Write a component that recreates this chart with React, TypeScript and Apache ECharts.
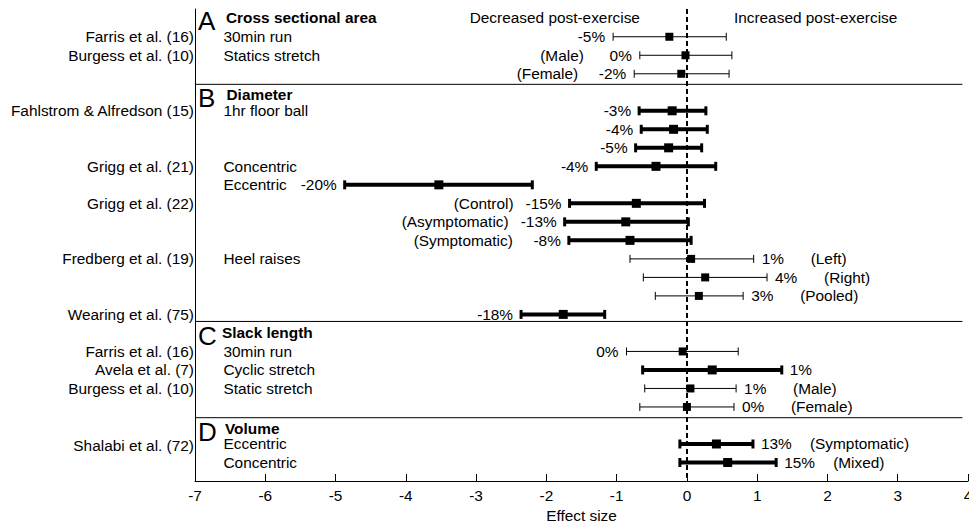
import React, { useEffect, useRef } from "react";
import * as echarts from "echarts";

// ---------- data ----------
const studyNames = [
  "Farris et al. (16)",
  "Burgess et al. (10)",
  "Fahlstrom & Alfredson (15)",
  "Grigg et al. (21)",
  "Grigg et al. (22)",
  "Fredberg et al. (19)",
  "Wearing et al. (75)",
  "Farris et al. (16)",
  "Avela et al. (7)",
  "Burgess et al. (10)",
  "Shalabi et al. (72)",
];
const studyRows = [0, 1, 4, 7, 9, 12, 15, 17, 18, 19, 22.08];

const interventionNames = [
  "30min run",
  "Statics stretch",
  "1hr floor ball",
  "Concentric",
  "Eccentric",
  "Heel raises",
  "30min run",
  "Cyclic stretch",
  "Static stretch",
  "Eccentric",
  "Concentric",
];
const interventionRows = [0, 1, 4, 7, 8, 12, 17, 18, 19, 22, 23];

const sectionLetters = ["A", "B", "C", "D"];
const sectionTitles = ["Cross sectional area", "Diameter", "Slack length", "Volume"];
const sectionRows = [-1.03, 3.13, 15.99, 21.18];
const separatorRows = [2.57, 15.38, 20.58];

const effectRows = [0, 1, 2, 4, 5, 6, 7, 8, 9, 10, 11, 12, 13, 14, 15, 17, 18, 19, 20, 22, 23];
const effectEstimates = [
  -0.25, -0.02, -0.08,
  -0.21, -0.19, -0.26, -0.44, -3.53, -0.72, -0.87, -0.81, 0.06, 0.26, 0.17, -1.76,
  -0.06, 0.36, 0.05, 0.0,
  0.42, 0.58,
];
const ciLower = [
  -1.05, -0.67, -0.75,
  -0.68, -0.65, -0.73, -1.29, -4.87, -1.67, -1.74, -1.68, -0.81, -0.62, -0.45, -2.36,
  -0.86, -0.63, -0.6, -0.67,
  -0.1, -0.1,
];
const ciUpper = [
  0.56, 0.64, 0.6,
  0.27, 0.29, 0.21, 0.41, -2.2, 0.25, 0.02, 0.06, 0.95, 1.14, 0.8, -1.17,
  0.73, 1.35, 0.7, 0.67,
  0.94, 1.27,
];
const percentChange = [
  "-5%", "0%", "-2%",
  "-3%", "-4%", "-5%", "-4%", "-20%", "-15%", "-13%", "-8%", "1%", "4%", "3%", "-18%",
  "0%", "1%", "1%", "0%",
  "13%", "15%",
];
const subgroupLabels = [
  "", "(Male)", "(Female)",
  "", "", "", "", "", "(Control)", "(Asymptomatic)", "(Symptomatic)", "(Left)", "(Right)", "(Pooled)", "",
  "", "", "(Male)", "(Female)",
  "(Symptomatic)", "(Mixed)",
];
const isThick = [
  false, false, false,
  true, true, true, true, true, true, true, true, false, false, false, true,
  false, true, false, false,
  true, true,
];
const labelOnLeft = [
  true, true, true,
  true, true, true, true, true, true, true, true, false, false, false, true,
  true, false, false, false,
  false, false,
];

const directionLabels = ["Decreased post-exercise", "Increased post-exercise"];
const axisTitle = "Effect size";
const xMin = -7;
const xMax = 4;
const xStep = 1;

// ---------- layout / style ----------
const FONT = "'Liberation Sans', Arial, Helvetica, sans-serif";
const FS = 15.4;
const sectionTitleDx = [31, 31.5, 27, 30];
const SEP_END = 3.92;

type TextSpec = {
  x: number;
  row: number;
  dx: number;
  dy: number;
  text: string;
  align: "left" | "right" | "center";
  size: number;
  weight: "normal" | "bold";
};

function buildTexts(): TextSpec[] {
  const t: TextSpec[] = [];
  studyNames.forEach((s, i) =>
    t.push({ x: xMin, row: studyRows[i], dx: -1, dy: 0, text: s, align: "right", size: FS, weight: "normal" })
  );
  interventionNames.forEach((s, i) =>
    t.push({ x: xMin, row: interventionRows[i], dx: 28.5, dy: 0, text: s, align: "left", size: FS, weight: "normal" })
  );
  sectionTitles.forEach((s, i) => {
    t.push({ x: xMin, row: sectionRows[i], dx: sectionTitleDx[i], dy: 0, text: s, align: "left", size: FS, weight: "bold" });
    t.push({ x: xMin, row: sectionRows[i], dx: 3, dy: 3.5, text: sectionLetters[i], align: "left", size: 26, weight: "normal" });
  });
  t.push({ x: 0, row: sectionRows[0], dx: -47, dy: 0, text: directionLabels[0], align: "right", size: FS, weight: "normal" });
  t.push({ x: 0, row: sectionRows[0], dx: 47, dy: 0, text: directionLabels[1], align: "left", size: FS, weight: "normal" });
  return t;
}

export default function App() {
  const ref = useRef<HTMLDivElement>(null);

  useEffect(() => {
    if (!ref.current) return;
    const chart = echarts.init(ref.current, null, { renderer: "svg" });
    const texts = buildTexts();

    const option: any = {
      animation: false,
      backgroundColor: "#fff",
      grid: { left: 195, right: 1, top: 9, bottom: 44, containLabel: false, outerBoundsMode: "none" },
      xAxis: {
        type: "value",
        min: xMin,
        max: xMax,
        interval: xStep,
        name: axisTitle,
        nameLocation: "middle",
        nameGap: 25,
        nameTextStyle: { color: "#000", fontSize: FS, fontFamily: FONT },
        axisLine: { show: true, onZero: false, lineStyle: { color: "#000", width: 1 } },
        axisTick: { show: true, inside: true, length: 7, lineStyle: { color: "#000", width: 1 } },
        axisLabel: { color: "#000", fontSize: FS, fontFamily: FONT, margin: 7 },
        splitLine: { show: false },
      },
      yAxis: {
        type: "value",
        min: -1.5,
        max: 24,
        inverse: true,
        axisLine: { show: true, onZero: false, lineStyle: { color: "#000", width: 1 } },
        axisTick: { show: false },
        axisLabel: { show: false },
        splitLine: { show: false },
      },
      series: [
        {
          type: "custom",
          name: "separators",
          silent: true,
          data: separatorRows.map((r) => [xMin, r]),
          renderItem: (params: any, api: any) => {
            const r = api.value(1);
            const a = api.coord([xMin, r]);
            const b = api.coord([SEP_END, r]);
            return {
              type: "line",
              shape: { x1: a[0], y1: a[1], x2: b[0], y2: b[1] },
              style: { stroke: "#000", lineWidth: 1 },
            };
          },
          z: 1,
        },
        {
          type: "custom",
          name: "ci",
          silent: true,
          data: effectRows.map((r, i) => [ciLower[i], ciUpper[i], r]),
          encode: { x: [0, 1], y: 2 },
          renderItem: (params: any, api: any) => {
            const i = params.dataIndex;
            const row = api.value(2);
            const lo = api.coord([api.value(0), row]);
            const hi = api.coord([api.value(1), row]);
            const thick = isThick[i];
            const lw = thick ? 4 : 1;
            const capW = thick ? 3 : 1;
            const capH = thick ? 4.5 : 4;
            const children: any[] = [
              { type: "line", shape: { x1: lo[0], y1: lo[1], x2: hi[0], y2: hi[1] }, style: { stroke: "#000", lineWidth: lw } },
              { type: "line", shape: { x1: lo[0], y1: lo[1] - capH, x2: lo[0], y2: lo[1] + capH }, style: { stroke: "#000", lineWidth: capW } },
              { type: "line", shape: { x1: hi[0], y1: hi[1] - capH, x2: hi[0], y2: hi[1] + capH }, style: { stroke: "#000", lineWidth: capW } },
            ];
            const left = labelOnLeft[i];
            const baseX = left ? lo[0] - 8 : hi[0] + 8;
            children.push({
              type: "text",
              x: baseX,
              y: lo[1],
              style: {
                text: percentChange[i],
                fill: "#000",
                fontSize: FS,
                fontFamily: FONT,
                align: left ? "right" : "left",
                verticalAlign: "middle",
              },
            });
            if (subgroupLabels[i]) {
              children.push({
                type: "text",
                x: left ? lo[0] - 56 : hi[0] + 57,
                y: lo[1],
                style: {
                  text: subgroupLabels[i],
                  fill: "#000",
                  fontSize: FS,
                  fontFamily: FONT,
                  align: left ? "right" : "left",
                  verticalAlign: "middle",
                },
              });
            }
            return { type: "group", children };
          },
          z: 2,
        },
        {
          type: "scatter",
          name: "estimate",
          silent: true,
          symbol: "rect",
          symbolSize: (_v: any, p: any) => (isThick[p.dataIndex] ? 9 : 8),
          itemStyle: { color: "#000", opacity: 1 },
          data: effectRows.map((r, i) => [effectEstimates[i], r]),
          z: 4,
          markLine: {
            silent: true,
            symbol: "none",
            label: { show: false },
            lineStyle: { type: [5, 3], width: 2, color: "#000" },
            data: [{ xAxis: 0 }],
            z: 3,
          },
        },
        {
          type: "custom",
          name: "texts",
          silent: true,
          clip: false,
          data: texts.map((s) => [s.x, s.row]),
          renderItem: (params: any, api: any) => {
            const s = texts[params.dataIndex];
            const p = api.coord([s.x, s.row]);
            return {
              type: "text",
              x: p[0] + s.dx,
              y: p[1] + s.dy,
              style: {
                text: s.text,
                fill: "#000",
                fontSize: s.size,
                fontFamily: FONT,
                fontWeight: s.weight,
                align: s.align,
                verticalAlign: "middle",
              },
            };
          },
          z: 5,
        },
      ],
    };

    chart.setOption(option);
    return () => chart.dispose();
  }, []);

  return (
    <div
      ref={ref}
      style={{ position: "fixed", left: 0, top: 0, width: 969, height: 525, overflow: "hidden" }}
    />
  );
}
